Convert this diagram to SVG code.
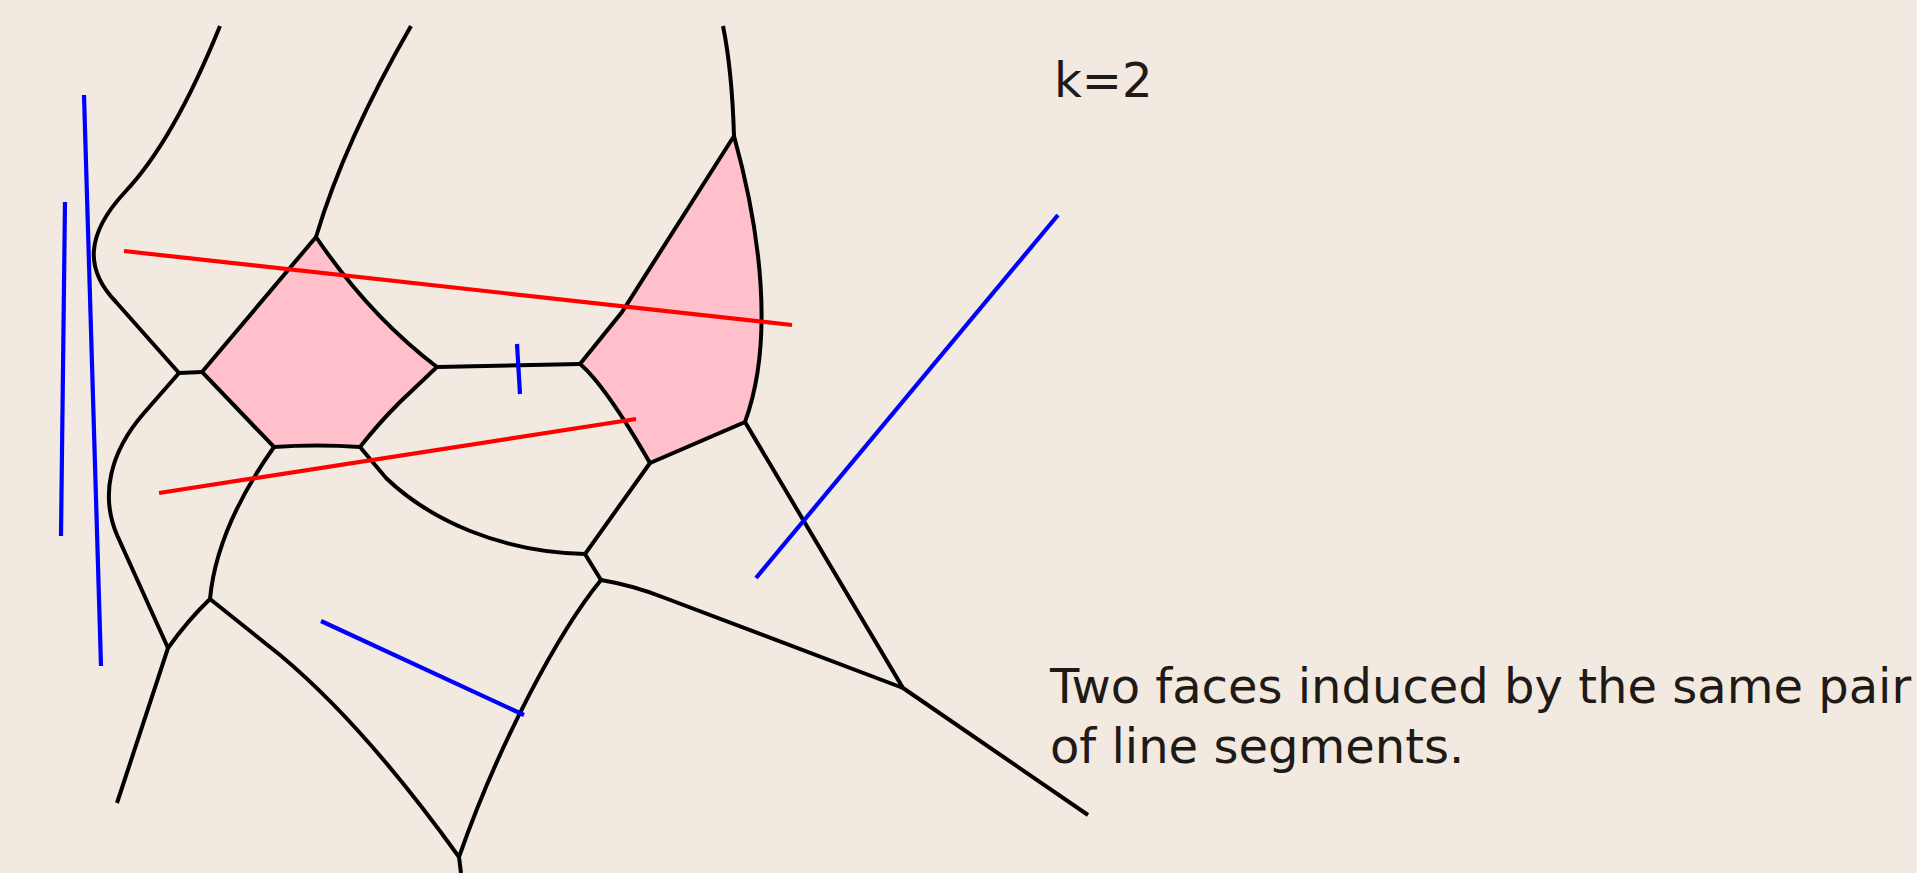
<svg xmlns="http://www.w3.org/2000/svg" width="1917" height="873" viewBox="0 0 1917 873">
<style>
.e{fill:none;stroke:#000;stroke-width:4;stroke-linejoin:miter}
.face{fill:#ffc0cb;stroke:#000;stroke-width:4}
.red{stroke:#ff0000;stroke-width:4.2;fill:none}
.blue{stroke:#0000ff;stroke-width:4.2;fill:none}
.t{font-family:"DejaVu Sans",sans-serif;font-size:48px;fill:#1f1a16}
</style>
<rect width="1917" height="873" fill="#f2eae1"/>
<g id="face1"><path class="face" d="M202,372 L316,237 C335,265 375,320 437,367 L400,402 Q378,424 360,447 Q317,444 274,447 Z"/></g>
<g id="face2"><path class="face" d="M580,364 L622,312 L734,136 C760,230 775,340 745,422 L650,463 Q605,385 580,364 Z"/></g>
<g id="edges">
<path class="e" d="M220,26 C190,100 160,155 125,192 C85,235 85,270 116,302 L179,373"/>
<path class="e" d="M411,26 Q345,140 316,237"/>
<path class="e" d="M723,26 Q732,70 734,136"/>
<path class="e" d="M179,373 L202,372"/>
<path class="e" d="M437,367 L580,364"/>
<path class="e" d="M360,447 L386,478 C430,520 500,552 585,554"/>
<path class="e" d="M650,463 L585,554 L601,580"/>
<path class="e" d="M745,422 L903,688 L1088,815"/>
<path class="e" d="M601,580 C625,584 645,590 665,598 L903,688"/>
<path class="e" d="M601,580 C560,630 500,740 459,857 L461,873"/>
<path class="e" d="M210,599 L280,655 C340,705 400,775 459,857"/>
<path class="e" d="M274,447 C240,495 215,545 210,599"/>
<path class="e" d="M210,599 Q188,620 168,648 L117,803"/>
<path class="e" d="M179,373 L144,413 C110,452 100,495 117,535 L168,648"/>
</g>
<g id="segments">
<line class="red" x1="124" y1="251" x2="792" y2="325"/>
<line class="red" x1="159" y1="493" x2="636" y2="419"/>
<line class="blue" x1="65" y1="202" x2="61" y2="536"/>
<line class="blue" x1="84" y1="95" x2="101" y2="666"/>
<line class="blue" x1="517" y1="344" x2="520" y2="394"/>
<line class="blue" x1="1058" y1="215" x2="756" y2="578"/>
<line class="blue" x1="321" y1="621" x2="524" y2="715"/>
</g>
<g id="labels">
<text class="t" x="1054" y="97">k=2</text>
<text class="t" x="1050" y="703">Two faces induced by the same pair</text>
<text class="t" x="1050" y="763">of line segments.</text>
</g>
</svg>
